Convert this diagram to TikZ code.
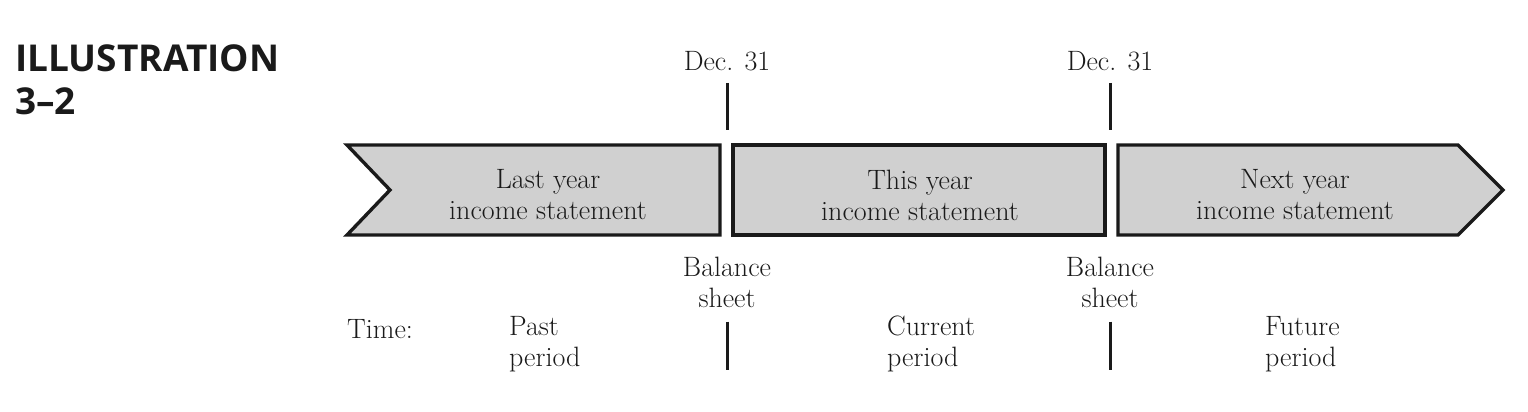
\documentclass[tikz,border=0pt]{standalone}
\usepackage{fontspec}
\newfontfamily\titlefont{Open Sans}
\definecolor{ink}{HTML}{1A1A1A}
\definecolor{band}{HTML}{D0D0D0}
\usetikzlibrary{positioning}

\begin{document}
\begin{tikzpicture}[x=1pt,y=-1pt,every node/.style={font=\fontsize{28}{31}\selectfont,text=ink,inner sep=0pt}]
\tikzstyle{panel}=[draw=ink,fill=band,line width=3.4pt,line join=miter]
\tikzstyle{tick}=[draw=ink,line width=3pt]
\useasboundingbox (0,0) rectangle (1528,412);
\node[anchor=north west,align=left,font=\titlefont\bfseries\fontsize{37}{43}\selectfont] (title) at (15,44) {ILLUSTRATION\\3–2};
% the three years
\draw[panel] (347,145) -- (720,145) -- (720,235) -- (347,235) -- (390,190) -- cycle;
\draw[panel] (733,145) rectangle (1105,235);
\draw[panel] (1118,145) -- (1458,145) -- (1503,190) -- (1458,235) -- (1118,235) -- cycle;
\node[align=center] (last) at (548,195) {Last year\\income statement};
\node[align=center] (this) at (920,195) {This year\\income statement};
\node[align=center] (next) at (1295,195) {Next year\\income statement};
% year ends
\node (dec1) at (727,61) {Dec. 31};
\node (dec2) at (1110,61) {Dec. 31};
\node[align=center] (bal1) at (727,282) {Balance\\sheet};
\node[align=center] (bal2) at (1110,282) {Balance\\sheet};
\draw[tick] ([yshift=-12pt]dec1.south) -- ++(0,47);
\draw[tick] ([yshift=-12pt]dec2.south) -- ++(0,47);
\draw[tick] ([yshift=-14pt]bal1.south) -- ++(0,48);
\draw[tick] ([yshift=-14pt]bal2.south) -- ++(0,48);
% time line
\node[anchor=west] (time) at (347,329) {Time:};
\node[anchor=west,align=left] (past) at (509,344) {Past\\period};
\node[anchor=west,align=left] (current) at (887,344) {Current\\period};
\node[anchor=west,align=left] (future) at (1265,344) {Future\\period};
\end{tikzpicture}
\end{document}
